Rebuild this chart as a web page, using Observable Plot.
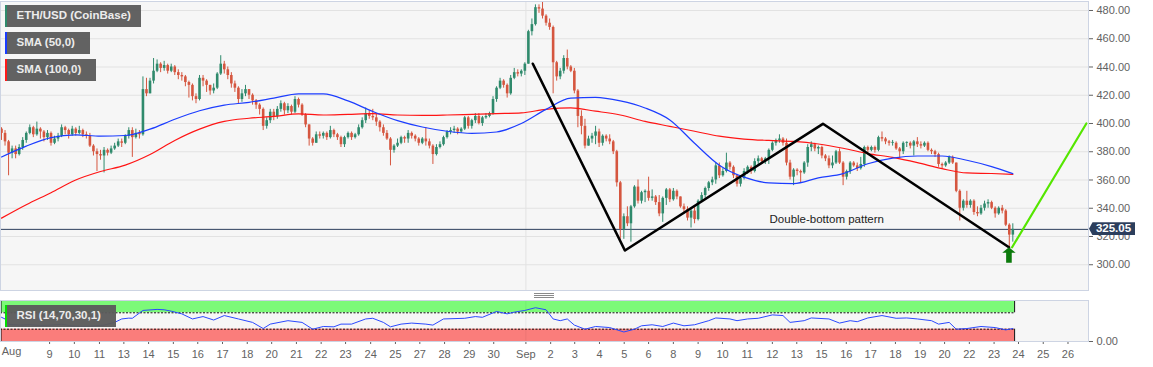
<!DOCTYPE html>
<html><head><meta charset="utf-8">
<script src="https://cdn.jsdelivr.net/npm/d3@7"></script>
<script src="https://cdn.jsdelivr.net/npm/@observablehq/plot@0.6"></script>
<style>
body{margin:0;background:#fff;font-family:"Liberation Sans",Arial,sans-serif;}
#wrap{position:relative;width:1153px;height:367px;overflow:hidden;background:#fff;}
#wrap svg{display:block;position:absolute;left:0;}
.leg{position:absolute;height:21.5px;background:rgba(92,92,92,0.96);color:#ececec;font:bold 11.5px "Liberation Sans",Arial,sans-serif;line-height:21.5px;padding-left:9.5px;box-sizing:border-box;border-left:2.5px solid #000;white-space:nowrap;}
.tag{position:absolute;height:13px;width:46px;background:#2c3e5c;color:#fff;font:bold 11.5px "Liberation Sans",Arial,sans-serif;line-height:13px;text-align:center;padding-left:3px;box-sizing:border-box;clip-path:polygon(0 50%,3.5px 0,100% 0,100% 100%,3.5px 100%);}
.grip{position:absolute;left:534px;width:20px;height:1px;background:#8a8a8a;}
</style></head>
<body><div id="wrap"></div>
<script>
// ---------- DATA ----------
const firstOpen = 396;
const closes = [
393,387,379,382,378,383,388, 393,397,392,396,394,390,393, 386,389,391,397,395,392,396,
393,395,392,391,384,380,378, 377,381,379,382,384,387,386, 391,395,390,393,392,424,421,
430,437,442,439,441,437,440, 436,434,433,429,427,419,417, 432,430,427,423,425,435,442,
438,434,428,425,417,421,424, 420,416,413,410,398,402,408, 405,410,414,409,412,408,417,
413,406,399,389,386,392,391, 393,390,395,392,390,385,390, 393,390,392,397,402,407,405,
404,401,397,393,389,381,384, 386,390,389,393,391,389,386, 389,387,384,378,383,385,390,
394,395,396,394,396,404,398, 402,405,400,404,405,407,417, 425,430,427,421,432,436,435,
437,442,465,470,482,481,476, 471,468,443,433,437,446,440, 437,423,405,398,384,389,391,
394,386,391,389,387,380,358, 325,334,329,341,355,345,351, 352,347,348,344,336,347,353,
346,352,348,341,339,333,338, 332,345,349,354,358,360,370, 363,366,372,369,363,357,361,
366,369,366,373,375,373,375, 381,386,388,389,386,372,362, 367,366,365,372,383,385,382,
383,377,375,370,372,380,372, 362,366,372,370,368,371,383, 381,383,381,390,389,387,386,
386,382,380,386,386,384,387, 385,384,386,381,380,378,371, 370,372,376,372,352,340,345,
342,345,337,336,340,343,344, 340,336,340,338,328,321,325.05];
const highs = [
397,395,388,384,384,385,390, 394,399,398,401,397,395,395, 394,391,393,399,398,396,398,
397,398,396,394,393,385,382, 381,383,382,384,386,389,389, 392,397,397,396,395,433,432,
432,446,445,443,444,442,442, 441,438,436,434,430,428,421, 434,434,431,427,428,436,448,
444,440,436,430,426,424,427, 423,421,417,414,411,404,410, 410,412,416,415,414,413,419,
418,414,407,399,390,394,394, 394,394,398,396,393,391,391, 394,394,393,399,404,411,409,
410,407,402,399,395,390,385, 389,391,391,395,394,392,390, 390,397,389,385,385,387,391,
395,397,398,397,397,405,405, 403,407,407,405,407,408,419, 426,432,431,428,434,439,438,
438,443,466,474,484,484,486, 477,474,469,444,439,448,452, 441,439,424,409,403,391,393,
398,396,392,392,392,388,381, 359,336,341,342,356,360,352, 353,362,353,349,349,348,354,
354,354,353,348,343,341,340, 341,346,351,355,359,362,372, 372,368,379,373,370,364,363,
368,370,370,375,377,376,376, 382,387,389,392,390,389,374, 368,368,367,373,385,387,386,
384,384,378,377,377,381,382, 373,367,373,373,372,376,384, 384,384,384,391,394,390,388,
388,387,383,387,387,387,388, 390,387,387,387,382,381,379, 372,373,377,377,372,353,346,
352,346,346,341,342,345,346, 345,341,341,342,339,329,329];
const lows = [
388,384,363,375,375,377,381, 386,392,390,391,389,387,388, 384,385,387,390,392,389,391,
391,392,390,389,383,377,366, 374,365,377,378,381,383,383, 385,389,376,389,389,391,419,
421,428,436,436,437,435,436, 434,431,430,426,418,416,414, 416,426,422,420,421,424,434,
435,431,425,422,414,415,419, 417,413,410,406,395,396,400, 402,403,408,406,407,406,407,
411,405,397,384,384,386,389, 389,388,389,390,388,383,383, 389,388,389,391,396,400,403,
402,398,394,391,388,370,379, 383,385,386,386,389,387,384, 385,384,382,371,377,382,384,
389,392,393,392,393,395,396, 396,400,399,398,403,404,406, 415,424,425,418,420,431,433,
433,434,442,462,469,478,474, 469,466,421,430,431,435,438, 436,421,397,392,382,384,386,
385,383,384,387,385,378,355, 318,318,327,316,340,343,343, 344,345,345,342,334,330,342,
344,345,346,340,336,331,326, 329,331,344,347,352,356,357, 361,362,365,367,361,355,355,
360,364,364,365,371,371,371, 371,380,384,386,384,370,360, 356,363,358,364,369,380,380,
378,375,373,368,368,371,371, 356,360,364,369,366,367,369, 379,380,379,380,387,385,384,
384,381,375,378,383,382,377, 383,382,383,380,378,376,369, 368,369,371,371,351,331,338,
340,340,335,334,335,338,340, 339,333,335,336,327,312,316];

// moving averages, sampled every 7 bars (bar index in smaIdx)
const smaIdx = [0,7,14,21,28,35,42,49,56,63,70,77,84,91,98,105,112,119,126,133,140,147,154,161,168,175,182,189,196,203,210,217,224,231,238,245,252,259,266,273,280,286];
const sma50 = [376.3,384,390,392,391,391.5,396,403,409,413,415,418,421,421,416,408.5,402,397.5,394.5,393,394,400,410,418,418.5,416,411,402.5,386,370.5,362,358,357.5,361.5,364.5,371.5,375.5,377,377,374,369.5,364.5];
const sma100 = [333,342.5,351,360,366,370.5,378,388,396,401.5,403.7,405,406.8,406,406.5,407,406,405.7,406,406.5,407,407.5,410,411,408.7,406,401.5,398,394.5,391,389,388,387.3,385.5,382.5,378.7,376,372.3,368,365,364.6,364];

// RSI (14) readings
const rsiIdx = [0,1,2,5,8,11,14,17,20,23,26,29,32,34,36,37,40,42,44,46,48,51,54,57,60,63,67,71,74,76,81,85,88,91,94,96,99,103,105,108,110,113,116,120,122,125,131,134,136,140,143,145,148,151,154,156,158,160,162,165,168,172,176,179,181,184,187,190,193,196,200,202,206,208,211,214,218,221,223,227,229,234,237,240,242,245,249,253,256,259,263,265,268,270,273,277,281,284,286];
const rsiVal = [59,55,42,40,41,39,40,42,38,37,38,40,46.6,55,57,56.6,75.8,77,78.3,77.4,74,67.4,55,60.8,52.4,63.3,55,46.6,31.6,42.4,50.8,46.6,30,36.6,35.8,42.4,42.4,55,56.6,46.6,35.8,42.4,44.9,42.4,40,55,56.6,60.8,59,73.3,67.4,71.6,75.8,82.4,77.4,55,50.8,55,40,30,36.6,34,23.2,30,38.3,40.8,36.6,44.9,38.3,40.8,50.8,57.4,55,50.8,55,56.6,64.9,63.3,46.6,50.8,57.4,55,44.9,50.8,48.3,57.4,63.3,56.6,57.4,55,50.8,42.4,46.6,30,31.6,36.6,34,28.3,31.6];

// double-bottom drawing pivots (bar index, price)
const patternIdx = [150.25,176.3,232.3,284.9];
const patternPx  = [442.3,310.1,399.8,312.4];
const targetIdx = [285.8,306.8];
const targetPx  = [312.4,400];
const patternLabel = "Double-bottom pattern";
const labelIdx = 217.2, labelPx = 332;

// axes
const yTicks = [300,320,340,360,380,400,420,440,460,480];
const xTickIdx = [0.2,13.6,20.6,27.7,34.6,41.6,48.6,55.5,62.5,69.5,76.4,83.4,90.4,97.3,104.4,111.4,118.3,125.3,132.3,139.2,148.3,155.3,162.1,169.1,176.1,183,190,197,203.9,210.9,218,224.9,231.9,238.9,245.8,252.8,259.8,266.7,273.7,280.7,287.6,294.6,301.6];
const xTickLabels = ["Aug","9","10","11","13","14","15","16","17","18","20","21","22","23","24","25","27","28","29","30","Sep","2","3","4","5","6","8","9","10","11","12","13","15","16","17","18","19","20","22","23","24","25","26"];
const legends = [["ETH/USD (CoinBase)","#2f8a6c",136],["SMA (50,0)","#1a3cff",85],["SMA (100,0)","#ff1a1a",91]];
const rsiLegend = ["RSI (14,70,30,1)","#00e000",111];

// ---------- BUILD ----------
const UP = "#2f8a6c", DOWN = "#d5563f";
const candles = closes.map((c, i) => {
  const o = i === 0 ? firstOpen : closes[i - 1];
  return {i, o, c, h: Math.max(highs[i], o, c), l: Math.min(lows[i], o, c),
          b2: o === c ? c + 0.6 : c, col: c >= o ? UP : DOWN};
});
const smaData = smaIdx.map((k, j) => ({k, a: sma50[j], b: sma100[j]}));
const rsiData = rsiIdx.map((k, j) => ({k, v: rsiVal[j]}));
const pattern = patternIdx.map((k, j) => ({k, v: patternPx[j]}));
const target = targetIdx.map((k, j) => ({k, v: targetPx[j]}));
const lastClose = closes[closes.length - 1];
const sepIdx = xTickIdx[xTickLabels.indexOf("Sep")];
const xDomain = [-0.283, 307.4];
const FONT = '"Liberation Sans", Arial, sans-serif';
const BORDER = "#cdd4e3";
const AXIS = "#626262";

const arrowSymbol = {draw(ctx) {
  ctx.moveTo(0, 0); ctx.lineTo(6.7, 5.5); ctx.lineTo(2.8, 5.5); ctx.lineTo(2.8, 15.5);
  ctx.lineTo(-2.8, 15.5); ctx.lineTo(-2.8, 5.5); ctx.lineTo(-6.7, 5.5); ctx.closePath();
}};

const main = Plot.plot({
  width: 1153, height: 291,
  marginLeft: 0, marginRight: 65, marginTop: 1, marginBottom: 1,
  style: {background: "transparent", fontFamily: FONT, fontSize: "11px", overflow: "visible"},
  x: {domain: xDomain, axis: null},
  y: {domain: [281.77, 486.37], axis: null},
  marks: [
    Plot.frame({fill: "#f6f6f6", stroke: null}),
    Plot.ruleY(yTicks, {stroke: "#e2e2e2", strokeWidth: 1}),
    Plot.ruleX([sepIdx], {stroke: "#e2e2e2", strokeWidth: 1}),
    Plot.ruleY([lastClose], {stroke: "#2c3e5c", strokeWidth: 1}),
    Plot.ruleX(candles, {x: "i", y1: "l", y2: "h", stroke: "col", strokeWidth: 1}),
    Plot.ruleX(candles, {x: "i", y1: "o", y2: "b2", stroke: "col", strokeWidth: 2.6}),
    Plot.line(smaData, {x: "k", y: "b", stroke: "#ff1414", strokeWidth: 1.2, curve: "monotone-x"}),
    Plot.line(smaData, {x: "k", y: "a", stroke: "#1c3dff", strokeWidth: 1.2, curve: "monotone-x"}),
    Plot.line(pattern, {x: "k", y: "v", stroke: "#000", strokeWidth: 2.6}),
    Plot.line(target, {x: "k", y: "v", stroke: "#55e600", strokeWidth: 2.2}),
    Plot.dot([pattern[pattern.length - 1]], {x: "k", y: "v", symbol: arrowSymbol, fill: "#0b7a0b", stroke: null, r: 5}),
    Plot.text([patternLabel], {x: labelIdx, y: labelPx, text: d => d, textAnchor: "start", fill: "#222", fontSize: 11.5}),
    Plot.axisY(yTicks, {anchor: "right", tickSize: 4, tickPadding: 4, tickFormat: d => d.toFixed(2), color: AXIS, fontSize: 11, label: null}),
    Plot.frame({stroke: BORDER, strokeWidth: 1})
  ]
});

const tickMap = new Map(xTickIdx.map((k, j) => [k, xTickLabels[j]]));
const rsiPlot = Plot.plot({
  width: 1153, height: 76,
  marginLeft: 0, marginRight: 65, marginTop: 9, marginBottom: 26,
  style: {background: "transparent", fontFamily: FONT, fontSize: "11px", overflow: "visible"},
  x: {domain: xDomain, axis: null},
  y: {domain: [0, 100], axis: null},
  marks: [
    Plot.frame({fill: "#f6f6f6", stroke: null}),
    Plot.rect([0], {x1: xDomain[0], x2: closes.length - 0.5, y1: 70, y2: 100, fill: "#7cfa78"}),
    Plot.rect([0], {x1: xDomain[0], x2: closes.length - 0.5, y1: 0, y2: 30, fill: "#fa7d7b"}),
    Plot.ruleX([sepIdx], {stroke: "#000", strokeOpacity: 0.06}),
    Plot.ruleY([70, 30], {x1: xDomain[0], x2: closes.length - 0.5, stroke: "#111", strokeDasharray: "2,1.5", strokeWidth: 1}),
    Plot.ruleX([xDomain[0] + 0.15, closes.length - 0.5], {y1: 70, y2: 100, stroke: "#111", strokeWidth: 1}),
    Plot.ruleX([xDomain[0] + 0.15, closes.length - 0.5], {y1: 0, y2: 30, stroke: "#111", strokeWidth: 1}),
    Plot.line(rsiData, {x: "k", y: "v", stroke: "#2a48ff", strokeWidth: 1}),
    Plot.axisY([0], {anchor: "right", tickSize: 4, tickPadding: 4, tickFormat: d => d.toFixed(2), color: AXIS, fontSize: 11, label: null}),
    Plot.axisX(xTickIdx.slice(1), {anchor: "bottom", tickSize: 3, tickPadding: 6, tickFormat: d => tickMap.get(d), color: AXIS, fontSize: 11, label: null}),
    Plot.text([xTickLabels[0]], {x: xTickIdx[0], text: d => d, frameAnchor: "bottom", dy: 13.5, dx: -0.5, textAnchor: "start", fill: AXIS, fontSize: 11}),
    Plot.frame({stroke: BORDER, strokeWidth: 1})
  ]
});

const wrap = document.getElementById("wrap");
main.style.top = "0px";
rsiPlot.style.top = "291px";
wrap.appendChild(main);
wrap.appendChild(rsiPlot);

legends.forEach(([t, c, w], j) => {
  const d = document.createElement("div");
  d.className = "leg"; d.textContent = t;
  d.style.left = "5px"; d.style.top = (5 + j * 27) + "px"; d.style.borderLeftColor = c;
  d.style.width = w + "px";
  wrap.appendChild(d);
});
{
  const [t, c, w] = rsiLegend;
  const d = document.createElement("div");
  d.className = "leg"; d.textContent = t;
  d.style.left = "5px"; d.style.top = (291 + 14) + "px"; d.style.borderLeftColor = c;
  d.style.width = w + "px";
  wrap.appendChild(d);
}
{
  const y = main.scale("y").apply(lastClose);
  const t = document.createElement("div");
  t.className = "tag"; t.textContent = lastClose.toFixed(2);
  t.style.left = "1089px"; t.style.top = (y - 6.5) + "px";
  wrap.appendChild(t);
}
[293, 295, 297].forEach(y => {
  const g = document.createElement("div");
  g.className = "grip"; g.style.top = y + "px"; wrap.appendChild(g);
});
</script>
</body></html>
